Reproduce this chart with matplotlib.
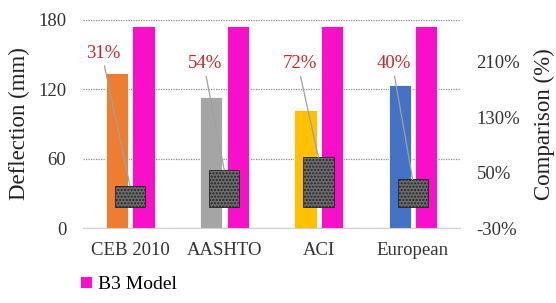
import matplotlib.pyplot as plt
import numpy as np

# ===========================
# DATA
# ===========================
categories = ["CEB 2010", "AASHTO", "ACI", "European"]
code_deflection = [134, 113, 102, 124]      # mm, left axis
b3_deflection = [175, 175, 175, 175]        # mm, left axis
comparison = [31, 54, 72, 40]               # %, right axis
comparison_labels = ["31%", "54%", "72%", "40%"]

left_ticks = [0, 60, 120, 180]
right_ticks = [-30, 50, 130, 210]

# ===========================
# STYLE
# ===========================
code_colors = ["#ED7D31", "#A5A5A5", "#FFC000", "#4472C4"]
b3_color = "#F80FC8"
label_red = "#C8262A"
plt.rcParams["font.family"] = ["Liberation Serif", "DejaVu Serif"]
plt.rcParams["hatch.color"] = "#151515"
plt.rcParams["hatch.linewidth"] = 1.0

fig = plt.figure(figsize=(5.56, 3.03), dpi=100)
ax = fig.add_axes([0.149, 0.2475, 0.678, 0.6865])
ax2 = ax.twinx()

x = np.arange(len(categories))
w = 0.235

ax.bar(x - 0.138, code_deflection, w, color=code_colors, edgecolor="white", linewidth=0.6, zorder=2)
b3 = ax.bar(x + 0.143, b3_deflection, w, color=b3_color, edgecolor="white", linewidth=0.6,
            zorder=2, label="B3 Model")

ax.set_xlim(-0.5, len(categories) - 0.5)
ax.set_ylim(0, 180)
ax.set_yticks(left_ticks)
ax.set_xticks(x)
ax.set_xticklabels(categories)
ax.yaxis.grid(True, linestyle=(0, (1, 1)), color="#8a8a8a", linewidth=0.9, zorder=0)
ax.set_axisbelow(True)
for s in ["top", "right", "left"]:
    ax.spines[s].set_visible(False)
ax.spines["bottom"].set_color("#d0d0d0")
ax.tick_params(axis="both", length=0, labelsize=13.5, colors="#333333")
ax.tick_params(axis="x", pad=10)
ax.tick_params(axis="y", pad=12)
ax.set_ylabel("Deflection (mm)", fontsize=16.5, labelpad=6, color="#222222")

# comparison bars on secondary axis
ax2.bar(x, comparison, 0.32, facecolor="#6c6c6c", edgecolor="#222222", hatch=".....",
        linewidth=0.6, zorder=3)
ax2.set_ylim(-30, 270)
ax2.set_yticks(right_ticks)
ax2.set_yticklabels([f"{t}%" for t in right_ticks])
for s in ax2.spines.values():
    s.set_visible(False)
ax2.tick_params(axis="y", length=0, labelsize=13.5, colors="#333333", pad=12)
ax2.set_ylabel("Comparison (%)", fontsize=16.5, labelpad=10, color="#222222")

# percentage labels with leader lines
label_heights = [222, 207, 207, 207]
label_shift = [-0.28, -0.2, -0.2, -0.2]
for i, (val, txt) in enumerate(zip(comparison, comparison_labels)):
    ax2.annotate(txt, xy=(x[i], val), xytext=(x[i] + label_shift[i], label_heights[i]),
                 ha="center", va="center", fontsize=13.5, color=label_red,
                 arrowprops=dict(arrowstyle="-", color="#a0a0a0", lw=0.9,
                                 relpos=(0.5, 0), shrinkA=1, shrinkB=0),
                 zorder=4)

fig.legend(handles=[b3], loc="lower left", bbox_to_anchor=(0.113, -0.025), frameon=False,
           fontsize=14, handlelength=0.6, handleheight=0.6, handletextpad=0.3)

fig.savefig("out.png", dpi=100)
